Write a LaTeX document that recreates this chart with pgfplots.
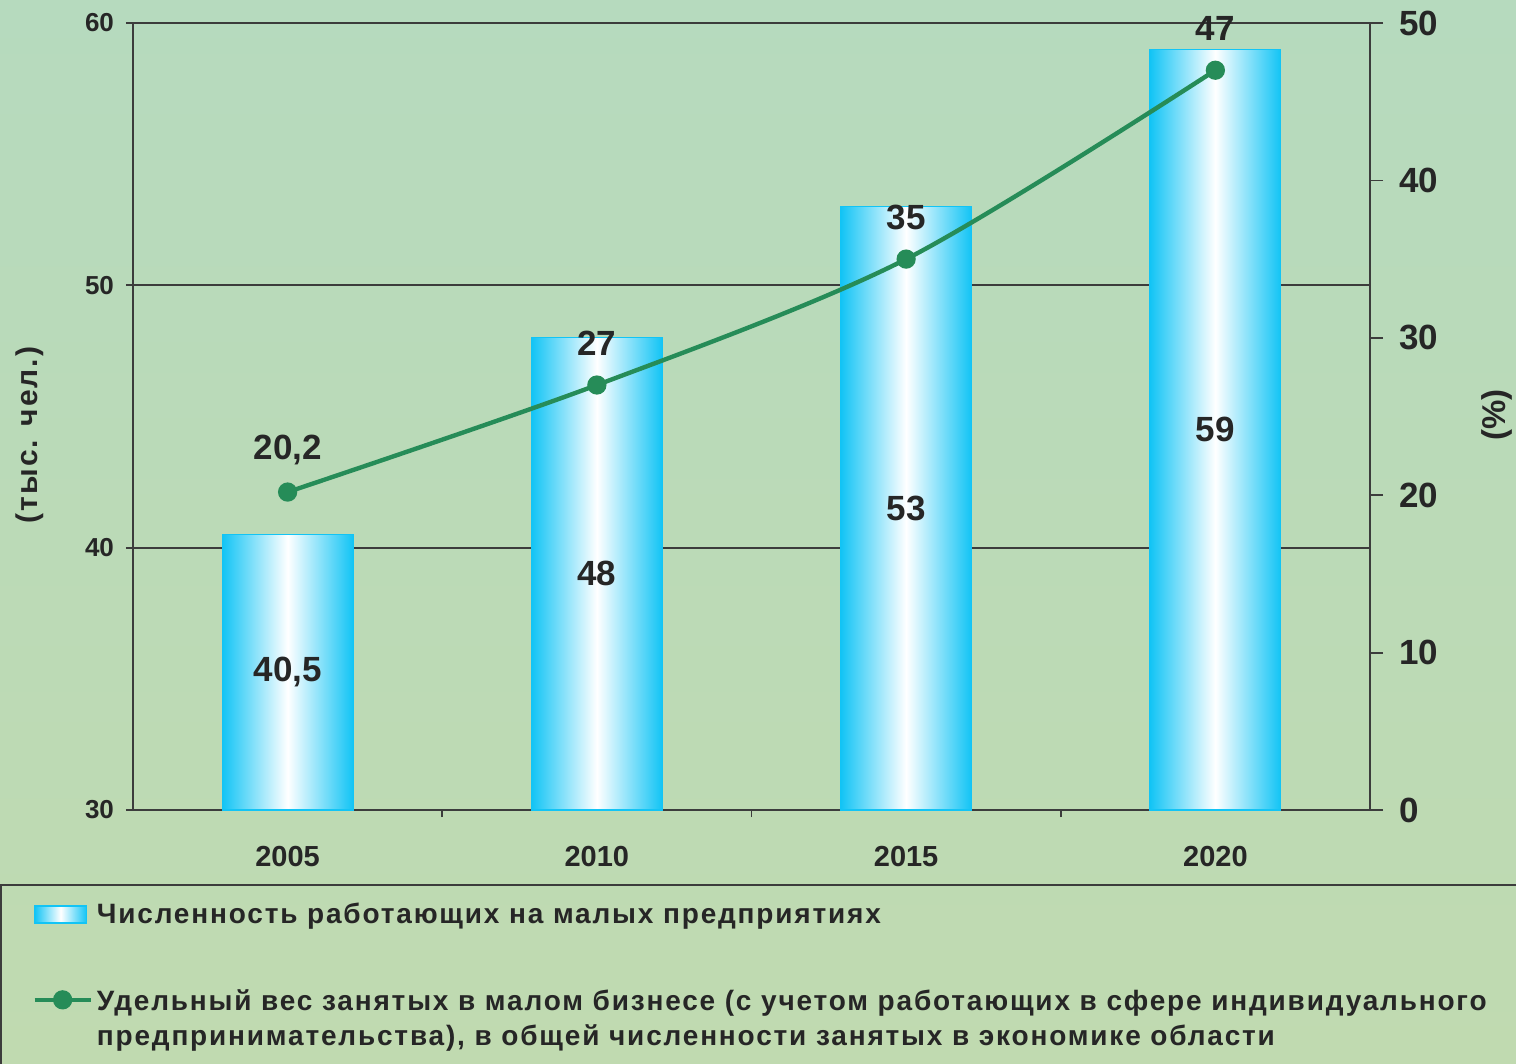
\documentclass[border=0pt]{standalone}
\usepackage{fontspec}
\setmainfont{Liberation Sans}
\newfontfamily\legfont[LetterSpace=6.5]{Liberation Sans}
\usepackage{pgfplots}
\pgfplotsset{compat=1.18}
\definecolor{bgtop}{RGB}{182,218,190}
\definecolor{bgbot}{RGB}{192,218,176}
\definecolor{barcyan}{RGB}{18,196,245}
\definecolor{linegreen}{RGB}{38,140,88}
\definecolor{txt}{RGB}{38,38,38}
\definecolor{axline}{RGB}{60,60,60}
\pgfplotsset{
    linelegend/.style={legend image code/.code={
        \draw[mark repeat=2, mark phase=2, ##1] plot coordinates {(0pt,0pt) (14pt,0pt) (28pt,0pt)};}},
    barlegend/.style={legend image code/.code={
        \draw[draw=barcyan, line width=0.8pt, left color=barcyan, right color=barcyan, middle color=white]
            (0pt,-4.25pt) rectangle (26pt,4.25pt);}},
    cbar/.style={ybar, bar width=65.5pt, bar shift=0pt, draw=barcyan, line width=0.6pt,
        left color=barcyan, right color=barcyan, middle color=white},
}

\begin{document}
\begin{tikzpicture}[font=\bfseries]
% background and frame of legend area
\shade[top color=bgtop, bottom color=bgbot] (0,0) rectangle (758pt,-532pt);
\useasboundingbox (0,0) rectangle (758pt,-532pt);
\draw[axline, line width=0.9pt] (0.45pt,-442.5pt) rectangle (770pt,-540pt);

% axis titles
\node[rotate=90, text=txt, font=\legfont\bfseries\fontsize{15}{17}\selectfont] at (15pt,-217.5pt) {(тыс. чел.)};
\node[rotate=90, text=txt, font=\bfseries\fontsize{16.5}{18}\selectfont] at (748.5pt,-207.5pt) {(\%)};

% left axis: bars
\begin{axis}[
    at={(66.5pt,-405pt)}, anchor=south west,
    width=618.5pt, height=393.5pt, scale only axis,
    /pgf/number format/assume math mode=true,
    xmin=-0.5, xmax=3.5, ymin=30, ymax=60,
    ytick={30,40,50,60},
    ymajorgrids, grid style={axline, line width=0.9pt},
    axis line style={axline, line width=0.9pt},
    tick style={axline, line width=0.9pt},
    tick align=outside, tick pos=left, major tick length=3.5pt,
    xtick={0.5,1.5,2.5}, xticklabels={},
    extra x ticks={0,1,2,3}, extra x tick labels={2005,2010,2015,2020},
    extra x tick style={major tick length=0pt,
        tick label style={font=\bfseries\fontsize{14.5}{17}\selectfont, text=txt, yshift=-14.5pt}},
    yticklabel style={font=\bfseries\fontsize{13}{15}\selectfont, text=txt, xshift=-2.5pt},
]
\addplot[cbar] coordinates {(0,40.5)};
\addplot[cbar] coordinates {(1,48)};
\addplot[cbar] coordinates {(2,53)};
\addplot[cbar] coordinates {(3,59)};
\node[text=txt, font=\bfseries\fontsize{17.5}{20}\selectfont] at (axis cs:0,35.25) {40,5};
\node[text=txt, font=\bfseries\fontsize{17.5}{20}\selectfont] at (axis cs:1,39) {48};
\node[text=txt, font=\bfseries\fontsize{17.5}{20}\selectfont] at (axis cs:2,41.5) {53};
\node[text=txt, font=\bfseries\fontsize{17.5}{20}\selectfont] at (axis cs:3,44.5) {59};
\end{axis}

% right axis: share line
\begin{axis}[
    at={(66.5pt,-405pt)}, anchor=south west,
    width=618.5pt, height=393.5pt, scale only axis,
    /pgf/number format/assume math mode=true,
    xmin=-0.5, xmax=3.5, ymin=0, ymax=50,
    axis x line=none, axis y line*=right,
    ytick={0,10,...,50},
    axis line style={axline, line width=0.9pt},
    tick style={axline, line width=0.9pt},
    tick align=outside, major tick length=6.5pt,
    yticklabel style={font=\bfseries\fontsize{17.5}{20}\selectfont, text=txt, xshift=4.5pt},
    legend cell align=left,
    legend style={at={(axis description cs:-0.0816,-0.112)}, anchor=north west,
        draw=none, fill=none, inner sep=0pt, row sep=26pt,
        font=\legfont\bfseries\fontsize{14}{17.5}\selectfont, text=txt},
]
\addlegendimage{barlegend}
\addlegendentry{Численность работающих на малых предприятиях}
\addplot[linegreen, line width=2.2pt, smooth, mark=*, mark size=3.7pt,
    mark options={fill=linegreen, draw=linegreen},
    /pgf/number format/use comma,
    nodes near coords,
    every node near coord/.append style={anchor=center, yshift=21pt, text=txt,
        font=\bfseries\fontsize{17.5}{20}\selectfont},
    linelegend]
    coordinates {(0,20.2) (1,27) (2,35) (3,47)};
\addlegendentry{{\renewcommand{\arraystretch}{1}\begin{tabular}[t]{@{}l@{}}Удельный вес занятых в малом бизнесе (с учетом работающих в сфере индивидуального\\предпринимательства), в общей численности занятых в экономике области\end{tabular}}}
\end{axis}
\end{tikzpicture}
\end{document}
